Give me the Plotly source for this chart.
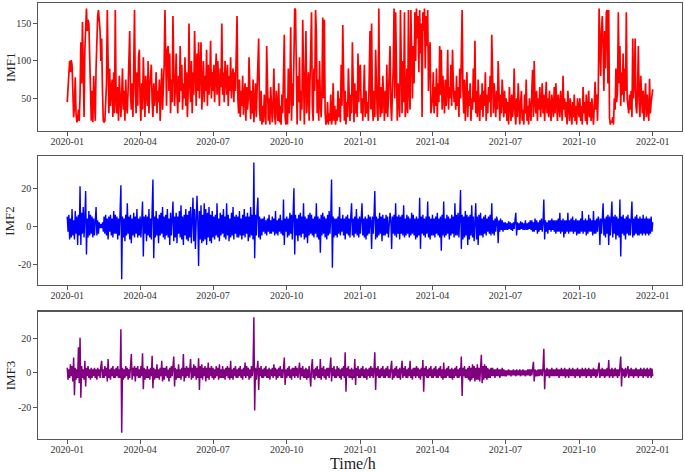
import pandas as pd
import plotly.graph_objects as go

# ---------------- data (daily readings from the picture) ----------------
start_date = "2020-01-01"
end_date = "2022-01-01"

imf1_2020 = [
    45, 62, 90, 100, 85, 101, 95, 55, 25, 40, 78, 30, 18, 22, 35, 20, 55, 125, 70, 152, 40, 25, 115, 160, 170, 140, 155, 150, 110, 35,
    20, 60, 18, 80, 25, 20, 90, 140, 160, 168, 150, 140, 100, 130, 60, 20, 18, 20, 45, 70, 168, 40, 30, 90, 40, 60, 75, 25, 85, 30,
    168, 50, 30, 65, 20, 80, 45, 25, 55, 90, 35, 60, 20, 75, 40, 30, 62, 110, 140, 55, 35, 70, 25, 90, 168, 60, 30, 85, 40, 105,
    115, 45, 20, 70, 35, 105, 60, 25, 80, 50, 40, 100, 30, 65, 90, 95, 45, 25, 70, 40, 55, 85, 30, 60, 45, 75, 20, 50, 90, 35,
    60, 95, 168, 80, 40, 115, 120, 60, 110, 30, 75, 45, 160, 90, 40, 65, 110, 55, 30, 80, 45, 120, 60, 95, 35, 70, 50, 105, 40, 85,
    25, 60, 150, 70, 45, 100, 30, 85, 55, 140, 75, 40, 110, 60, 125, 50, 90, 125, 35, 70, 100, 45, 80, 60, 115, 40, 95, 55, 75, 127, 50, 85,
    60, 95, 45, 80, 110, 55, 100, 70, 40, 90, 65, 150, 55, 85, 45, 100, 70, 55, 95, 40, 80, 60, 105, 50, 75, 90, 45, 85, 60, 100, 160,
    50, 30, 75, 25, 60, 40, 80, 28, 55, 70, 20, 65, 35, 50, 105, 40, 22, 60, 30, 75, 18, 45, 70, 25, 55, 80, 130, 35, 20, 60, 15,
    40, 18, 55, 25, 15, 120, 30, 20, 50, 15, 65, 30, 18, 45, 90, 25, 15, 60, 35, 20, 70, 18, 40, 15, 55, 30, 80, 135, 25, 15,
    50, 15, 90, 30, 60, 145, 20, 70, 40, 120, 170, 168, 25, 15, 80, 45, 105, 20, 60, 35, 155, 40, 15, 70, 140, 30, 50, 85, 20, 60, 100,
    165, 40, 20, 90, 60, 168, 140, 30, 75, 20, 100, 45, 25, 60, 158, 50, 155, 30, 15, 20, 45, 15, 30, 20, 55, 15, 25, 70, 20, 40,
    15, 35, 20, 60, 25, 50, 18, 95, 40, 148, 30, 20, 60, 15, 45, 25, 90, 35, 20, 55, 30, 125, 40, 18, 70, 30, 60, 25, 110, 45, 90,
]
imf1_2021 = [
    95, 30, 50, 20, 85, 95, 25, 60, 30, 45, 20, 70, 140, 35, 150, 40, 20, 60, 25, 115, 50, 30, 20, 170, 45, 25, 65, 30, 80, 40, 20,
    60, 30, 95, 25, 50, 80, 120, 40, 20, 60, 90, 170, 50, 165, 30, 20, 70, 40, 25, 168, 60, 30, 100, 45, 165, 25, 40, 90,
    30, 168, 60, 35, 168, 90, 50, 120, 70, 165, 100, 170, 130, 160, 85, 168, 110, 150, 25, 165, 140, 170, 90, 160, 120, 168, 60, 110, 125, 30, 45,
    50, 85, 30, 65, 40, 90, 25, 70, 45, 120, 55, 115, 35, 80, 50, 30, 75, 40, 60, 115, 35, 65, 50, 95, 40, 115, 70, 45, 60, 35,
    80, 40, 65, 25, 90, 50, 105, 168, 60, 30, 75, 20, 55, 85, 25, 60, 40, 70, 20, 50, 35, 90, 45, 127, 30, 60, 25, 75, 40, 20, 55,
    35, 70, 25, 60, 40, 85, 20, 55, 30, 65, 45, 80, 25, 135, 50, 30, 70, 40, 25, 60, 35, 100, 45, 20, 55, 30, 75, 40, 25, 60,
    30, 50, 20, 45, 15, 65, 35, 20, 55, 25, 40, 90, 30, 15, 50, 25, 70, 35, 15, 45, 60, 20, 35, 15, 55, 30, 75, 20, 40, 15, 50,
    35, 20, 60, 88, 25, 100, 45, 30, 60, 20, 50, 35, 65, 25, 45, 70, 30, 55, 20, 40, 72, 30, 50, 25, 60, 35, 20, 55, 40, 25, 65,
    30, 70, 45, 20, 55, 35, 25, 60, 40, 20, 80, 35, 50, 25, 45, 15, 60, 30, 20, 50, 35, 15, 45, 25, 55, 20, 40, 15, 50, 30,
    25, 50, 20, 40, 15, 65, 30, 45, 20, 55, 15, 35, 60, 25, 45, 20, 50, 30, 15, 40, 72, 35, 55, 20, 60, 170, 100, 80, 140, 160, 120,
    60, 140, 90, 165, 168, 70, 168, 25, 15, 20, 18, 25, 15, 50, 35, 90, 45, 60, 165, 70, 120, 40, 85, 55, 110, 45, 90, 60, 165, 50,
    40, 30, 55, 35, 60, 25, 130, 50, 70, 130, 40, 30, 60, 120, 45, 25, 80, 50, 30, 60, 20, 45, 70, 25, 55, 35, 20, 76, 30, 45, 60, 62,
]

imf2_2020 = [
    5, -3, 6, -7, 4, -6, 9, -5, 3, -7, 8, -4, 5, -10, 6, -5, 21, -10, 7, -4, 10, -6, 5, 18.5, -15, 4, -6, 8, -5, 6, -4,
    5, -6, 4, -5, 7, 10, -5, 3, -4, 2, -1, 1, -1, 2, -3, 5, -4, 6, -5, 4, -7, 5, -3, 6, -5, 4, -6, 8, -4,
    6, -4, 5, -7, 4, -5, 8, 21.5, -28, 5, -6, 4, -8, 6, -5, 12, -4, 5, -7, 6, -9, 4, -5, 7, -6, 5, -4, 9, -6, 4, -5,
    5, -6, 7, 13, -16, 5, -4, 6, -8, 5, -5, 9, -6, 4, -7, 6, 24.5, -17, 5, -6, 8, -5, 4, -9, 6, -5, 7, -4, 10, -6,
    5, -7, 6, -5, 9, -6, 4, -10, 7, -5, 6, 13, -8, 5, -6, 7, -9, 5, -4, 8, -6, 11, -7, 5, -10, 6, -5, 9, -7, 6, -8,
    8, -6, 10, -9, 7, 15, -8, 9, -12, 6, 16, 3, -21, 8, -7, 11, -9, 6, -8, 12, -7, 9, -10, 7, -6, 10, -8, 6, -9, 8,
    -6, 5, -7, 6, -5, 12, -6, 4, -8, 7, -5, 6, -4, 9, -6, 5, -7, 12, -5, 6, -8, 4, -6, 7, -5, 10, -7, 5, -4, 6, -6,
    5, -6, 8, -5, 4, -7, 6, -5, 9, -6, 5, -4, 7, -8, 5, -6, 10, -5, 6, -7, 33.5, -17, 6, -5, 8, 15, -6, 5, -7, 4, -5,
    4, -3, 5, -4, 3, -5, 4, -3, 6, -4, 3, -4, 5, -3, 4, -5, 8, -4, 3, -5, 4, -3, 6, -4, 3, -5, 14, -10, 4, -3,
    5, -6, 4, -5, 7, -4, 6, -7, 5, 20, -15, 6, -5, 4, -8, 6, -5, 7, -6, 5, -4, 12, -7, 5, -6, 4, -9, 6, -5, 7, -4,
    6, -5, 4, -6, 5, -4, 12, -6, 5, -7, 4, -14, 6, -5, 7, -4, 5, -6, 4, -7, 6, -5, 8, -4, 5, 24.5, -22, 5, -6, 4,
    -5, 4, -6, 5, -4, 10, -5, 4, -3, 6, -5, 4, -7, 5, -4, 6, -5, 4, -6, 5, 12, -5, 4, -6, 5, -4, 9, -5, 4, -6, 5,
]
imf2_2021 = [
    -4, 6, 12, -5, 4, -6, 5, -7, 4, -5, 6, -4, 5, 3, -12, 5, -4, 6, 18.5, -7, 5, -6, 4, -5, 7, -4, 5, -8, 6, -5, 4,
    -5, 6, -4, 5, -6, 4, 7, 3, -12, 5, -4, 6, -5, 12, -6, 5, -4, 6, -7, 5, -4, 6, -5, 11, -6, 4, -5, 6,
    -4, 5, -6, 4, -5, 7, -4, 6, -5, 4, -7, 5, -6, 4, -5, 15, -12, 5, -4, 6, -5, 4, -6, 5, -4, 13, -6, 5, -7, 4, -5,
    6, -5, 4, -6, 5, -4, 7, -5, 4, -6, 5, -13, 6, -5, 13, -6, 4, -5, 6, -4, 5, -7, 4, -5, 6, -4, 5, -6, 12, -5,
    6, -5, 7, -6, 5, 19, -12, 6, -7, 5, -6, 8, -5, 6, -10, 5, -7, 6, -5, 11, -6, 5, -8, 6, 12, -7, 5, -10, 6, -5, 7,
    -5, 4, -6, 5, -4, 6, -5, 4, -3, 5, -4, 6, -5, 12, -4, 3, -5, 4, -3, 5, 3, -9, 3, -3, 4, -2, 3, -3, 2, -2,
    2, -2, 1.5, -2, 2.5, -1.5, 2, -2, 1.5, -2.5, 2, -1.5, 3, 7, -5, 2, -2, 1.5, -2, 2.5, -1.5, 2, -2, 1.5, -2, 3, -2, 1.5, -2, 2, -1.5,
    3, -2, 3, -3, 2, -3, 4, -2, 3, -4, 2, -3, 3, -2, 4, -3, 2, 14, -7, 3, -3, 2, -4, 3, -2, 3, -3, 4, -2, 3, -3,
    3, -4, 3, -3, 4, -3, 7, -4, 3, -3, 4, -6, 3, -4, 3, -3, 7, -4, 3, -3, 4, -3, 5, -4, 3, -3, 4, -5, 3, -4,
    3, -4, 4, -3, 8, -4, 3, -3, 4, -5, 3, -4, 6, -3, 4, -3, 3, -5, 8, -4, 3, -4, 4, -3, 5, 3, -10, 4, -4, 6, 12,
    -5, 4, -6, 5, -4, 6, -10, 5, -5, 4, 13, -6, 5, -4, 6, -7, 5, -5, 4, -6, 14, -16, 5, -4, 6, -5, 4, -7, 5, -4,
    6, -5, 4, -5, 5, 13, -6, 4, -5, 5, -4, 6, -5, 4, -5, 5, -4, 4, -5, 6, -4, 4, -5, 5, -4, 4, -5, 4, -4, 5, -3, 2,
]

imf3_2020 = [
    3, -4, 2, -3, 5, -2, 4, -5, 9, -13, 3, -4, 2, -3, 15, -6, 20.5, -14.5, 4, -3, 2, -4, 7, -8, 3, -2, 4, -3, 2, -4, 3,
    -3, 2, -2, 3, -3, 2, -4, 3, -2, 2, -3, 4, 7, -3, 2, -3, 4, -2, 3, -5, 8, -3, 2, -4, 3, -2, 4, -3, 2,
    -3, 3, -2, 4, -3, 2, -3, 25.5, -35, 3, -4, 2, -3, 4, -2, 3, -4, 2, -3, 4, 11, -4, 3, -2, 4, -5, 3, -2, 4, -3, 2,
    -3, 4, -2, 11.5, -9.5, 3, -4, 2, -3, 4, -3, 2, -4, 3, -2, 10, -9, 3, -4, 2, -3, 5, -3, 2, -4, 3, -2, 7, -5, 3,
    -4, 3, -2, 4, -3, 2, -5, 3, -3, 4, -2, 3, 9.5, -8, 3, -4, 2, -3, 5, -3, 2, -4, 3, -2, 11, -5, 3, -3, 4, -2, 3,
    -3, 4, 8, -4, 3, -3, 5, -2, 4, -4, 3, -3, 8.5, -10, 4, -3, 5, -4, 3, -2, 4, -5, 3, -3, 6, -4, 3, -2, 4, -3,
    3, -4, 2, -3, 4, -2, 3, -4, 5, -3, 2, -3, 4, -3, 2, -4, 3, -2, 4, -3, 3, -4, 7, -3, 2, -4, 3, -2, 4, -3, 2,
    -3, 3, -2, 4, -3, 2, -4, 3, -2, 6, -3, 4, -2, 3, -4, 2, -3, 4, -2, 3, 32.5, -22, 3, -4, 2, 7, -10, 3, -2, 4, -3,
    2, -3, 3, -2, 4, -3, 2, -3, 3, -4, 2, -2, 3, -3, 5, -2, 3, -4, 2, -3, 3, -2, 4, -3, 2, -3, 3, 9, -7, 2,
    -3, 3, -2, 4, -3, 2, -4, 3, -2, 3, -3, 4, -2, 3, -3, 2, 6, -4, 3, -2, 4, -3, 2, -3, 3, -4, 2, -3, 4, -2, -8,
    3, 8, -3, 2, -4, 3, -2, 4, -3, 2, -3, 8, -4, 3, -2, 4, -3, 2, -4, 3, -2, 3, -3, 4, 9, -5, 3, -2, 4, -3,
    2, -3, 4, -2, 3, -3, 2, -4, 3, -2, 4, -3, 12, -11, 3, -2, 4, -3, 2, -3, 3, -4, 2, -3, 8, -7, 3, -2, 4, -3, 2,
]
imf3_2021 = [
    -3, 3, -2, 4, -3, 2, -3, 3, -4, 2, -2, 3, -3, 4, -2, 3, -3, 2, 12, -10, 3, -2, 4, -3, 2, -3, 3, -2, 4, -3, 2,
    -3, 3, -2, 4, -3, 2, -3, 3, 7, -4, 2, -3, 3, -2, 4, -3, 2, -3, 3, -4, 2, 7, -3, 3, -2, 4, -3, 2,
    -3, 3, -2, 7, -3, 2, -4, 3, -2, 3, -3, 4, -2, 3, -3, 2, -4, 3, -2, 7.5, -11, 3, -2, 4, -3, 2, -3, 3, -2, 4, -3,
    2, -3, 3, -2, 4, -3, 2, -3, 3, -2, 4, -3, 2, -4, 6, -3, 2, -3, 3, -2, 4, -3, 2, -3, 3, -4, 2, -3, 3, -2,
    4, -3, 2, -3, 3, -2, 9.5, -13.5, 3, -2, 4, -3, 2, -3, 3, -4, 4, -5, 3, -4, 5, -3, 4, -5, 3, -4, 5, -4, 3, -5, 4,
    10.5, -6, 4, -4, 5, -3, 4, -4, 3, -3, 2, -3, 3, -2, 3, -2, 2, -3, 2, -2, 3, -2, 2, -3, 2, -2, 3, -2, 2, -2,
    1.5, -2, 1.5, -1.5, 2, -1.5, 1.5, -2, 1.5, -1.5, 2, -1.5, 1.5, -2, 2, -1.5, 1.5, -1.5, 2, -2, 1.5, -1.5, 2, -1.5, 1.5, -2, 1.5, -1.5, 2, -1.5, 2,
    -2, 2, -1.5, 2, 6.5, -5, 2, -2, 1.5, -2, 2, -2, 2, -1.5, 2, -2, 3, 14, -9.5, 2, -2, 3, -2, 2, -3, 2, -2, 3, -2, 2, -2,
    2, -2, 3, -2, 2, -3, 2, -2, 3, -2, 2, -2, 3, -3, 2, -2, 2, -3, 3, -2, 2, -2, 3, -2, 2, -3, 2, -2, 3, -2,
    2, -3, 2, -2, 3, -2, 2, -2, 3, -3, 2, -2, 3, -2, 2, -3, 2, -2, 3, -2, 2, -3, 2, -2, 3, 6, -3, 2, -2, 3, -2,
    2, -3, 2, -2, 3, -2, 7.5, -3, 2, -2, 3, -3, 2, -2, 3, -2, 2, -3, 2, -2, 3, 9.5, -8, 3, -2, 2, -3, 3, -2, 2,
    4, -3, 2, -2, 3, -2, 2, -3, 2, -2, 3, -2, 2, -3, 2, -2, 3, -2, 2, -3, 3, -2, 2, -2, 3, -3, 2, -2, 3, -3, 2.5, -2,
]

tick_dates = ["2020-01-01", "2020-04-01", "2020-07-01", "2020-10-01", "2021-01-01",
              "2021-04-01", "2021-07-01", "2021-10-01", "2022-01-01"]
tick_labels = ["2020-01", "2020-04", "2020-07", "2020-10", "2021-01",
               "2021-04", "2021-07", "2021-10", "2022-01"]
y_labels = ["IMF1", "IMF2", "IMF3"]
x_title = "Time/h"

imf1 = imf1_2020 + imf1_2021
imf2 = imf2_2020 + imf2_2021
imf3 = imf3_2020 + imf3_2021

# ---------------- figure ----------------
FONT = "Liberation Serif, Times New Roman, serif"
series = [(imf1, "#ff0000", 1.7), (imf2, "#0000ff", 1.4), (imf3, "#800080", 1.5)]

fig = go.Figure()
for i, (vals, color, w) in enumerate(series):
    t = pd.date_range(start_date, end_date, periods=len(vals))
    sfx = "" if i == 0 else str(i + 1)
    fig.add_trace(go.Scatter(x=t, y=vals, mode="lines",
                             line=dict(color=color, width=w),
                             xaxis="x" + sfx, yaxis="y" + sfx,
                             hoverinfo="skip", showlegend=False))

x_range = ["2019-11-25 12:00", "2022-02-06 12:00"]
y_domains = [[0.706, 1.0], [0.353, 0.648], [0.0, 0.292]]
y_ranges = [[6.2, 177.3], [-31.1, 36.7], [-38.6, 35.7]]
y_ticks = [[50, 100, 150], [-20, 0, 20], [-20, 0, 20]]

axis_common = dict(showline=True, mirror=True, linecolor="#555555", linewidth=1.2,
                   ticks="outside", ticklen=3.5, tickwidth=1, tickcolor="#555555",
                   showgrid=False, zeroline=False, automargin=False,
                   tickfont=dict(family=FONT, size=10, color="#333333"))

layout = dict(width=685, height=472,
              margin=dict(l=38, r=3, t=3, b=33, pad=0, autoexpand=False),
              paper_bgcolor="white", plot_bgcolor="white",
              showlegend=False, font=dict(family=FONT))
annotations = []
for i in range(3):
    sfx = "" if i == 0 else str(i + 1)
    layout["xaxis" + sfx] = dict(axis_common, domain=[0, 1], anchor="y" + sfx,
                                 range=x_range, type="date",
                                 tickvals=tick_dates, ticktext=tick_labels,
                                 ticklabelstandoff=-3)
    layout["yaxis" + sfx] = dict(axis_common, domain=y_domains[i], anchor="x" + sfx,
                                 range=y_ranges[i], tickvals=y_ticks[i],
                                 ticktext=[str(v) for v in y_ticks[i]])
    annotations.append(dict(text=y_labels[i], xref="paper", yref="paper",
                            x=-0.0435, y=sum(y_domains[i]) / 2,
                            xanchor="center", yanchor="middle", textangle=-90,
                            showarrow=False,
                            font=dict(family=FONT, size=13, color="#222222")))
annotations.append(dict(text=x_title, xref="paper", yref="paper",
                        x=0.489, y=-0.057, xanchor="center", yanchor="middle",
                        showarrow=False,
                        font=dict(family=FONT, size=16, color="#222222")))
layout["annotations"] = annotations
fig.update_layout(**layout)

fig.write_html("out.html",
               config={"displayModeBar": False, "staticPlot": True},
               post_script="document.body.style.margin='0';"
                           "document.body.style.padding='0';"
                           "document.body.style.overflow='hidden';")
